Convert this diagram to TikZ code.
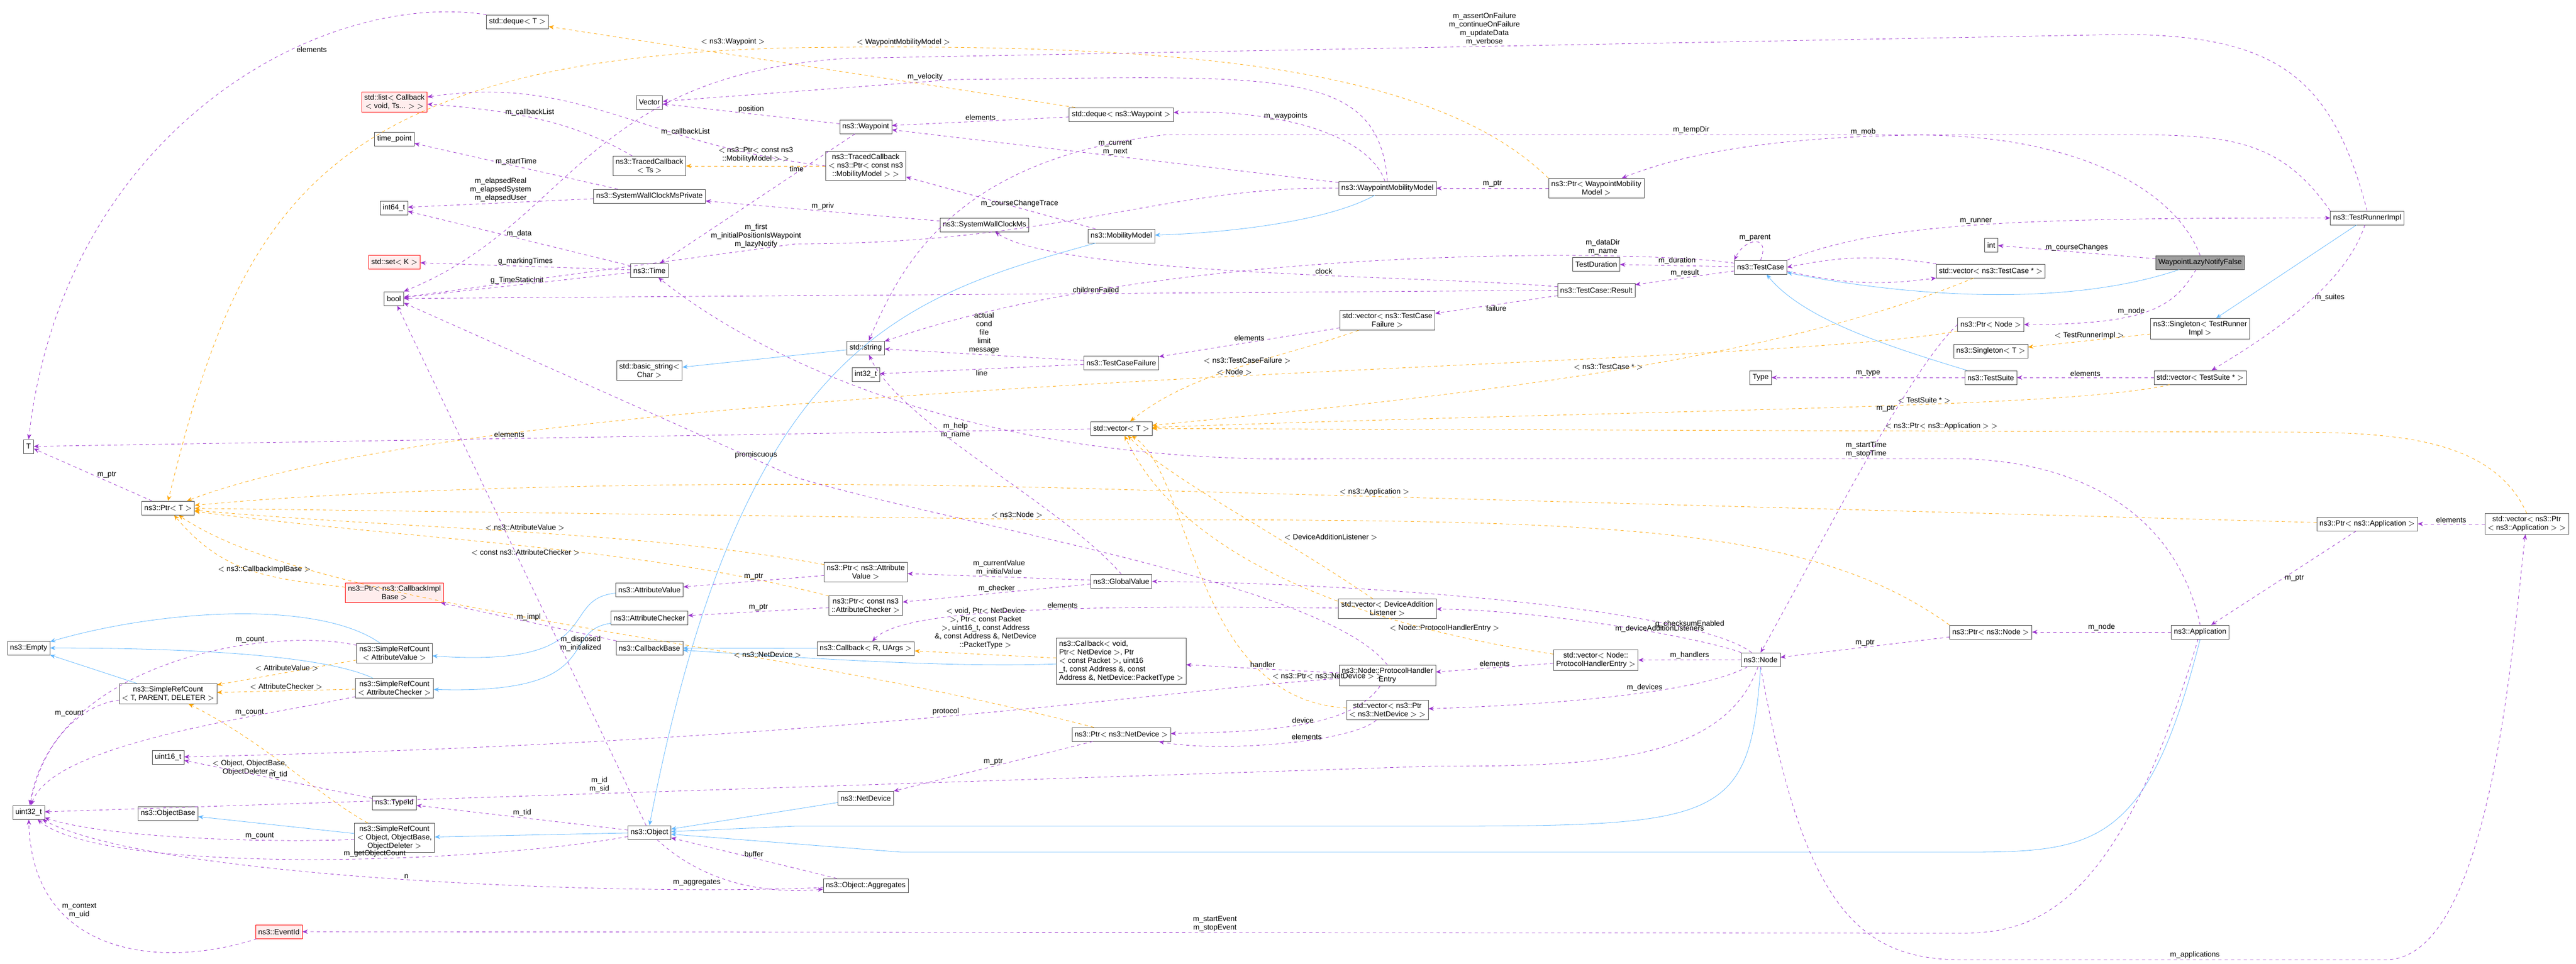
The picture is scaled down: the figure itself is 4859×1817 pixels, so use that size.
\documentclass[tikz,border=0pt]{standalone}
\usepackage{fontspec}
\setmainfont{Liberation Sans}
\usetikzlibrary{arrows.meta}
\definecolor{memc}{HTML}{9A32CD}
\definecolor{tplc}{HTML}{FFA500}
\definecolor{inhc}{HTML}{63B8FF}
\tikzset{
  box/.style={draw=gray!60!black,fill=white,font=\fontsize{7}{8}\selectfont,inner sep=2.5pt,minimum height=13pt,align=center},
  redbox/.style={box,draw=red,fill=red!7},
  mainbox/.style={box,fill=gray!75},
  mem/.style={draw=memc,dashed,-{Stealth[length=5pt,width=4pt]}},
  tpl/.style={draw=tplc,dashed,-{Stealth[length=5pt,width=4pt]}},
  inh/.style={draw=inhc,-{Stealth[length=5pt,width=4pt]}},
  lbl/.style={font=\fontsize{7}{8}\selectfont,align=center,inner sep=1pt,text=black}
}
\begin{document}
\begin{tikzpicture}[x=0.5pt,y=-0.5pt]
\useasboundingbox (0,0) rectangle (4859,1817);
% left column
\node[box] (T) at (54,842) {T};
\node[box] (dequeT) at (976,41) {std::deque$<$ T $>$};
\node[redbox] (cblist) at (744,192) {std::list$<$ Callback\\$<$ void, Ts... $>$ $>$};
\node[box] (timept) at (744,262) {time\_point};
\node[box] (int64) at (743,392) {int64\_t};
\node[redbox] (setK) at (744,494) {std::set$<$ K $>$};
\node[box] (bool) at (743,563) {bool};
\node[box] (ptrT) at (317,958) {ns3::Ptr$<$ T $>$};
\node[redbox] (ptrCbImpl) at (744,1118) {ns3::Ptr$<$ ns3::CallbackImpl\\Base $>$};
\node[box] (empty) at (54,1222) {ns3::Empty};
\node[box] (srcAV) at (744,1232) {ns3::SimpleRefCount\\$<$ AttributeValue $>$};
\node[box] (srcAC) at (744,1298) {ns3::SimpleRefCount\\$<$ AttributeChecker $>$};
\node[box] (srcTPD) at (317,1308) {ns3::SimpleRefCount\\$<$ T, PARENT, DELETER $>$};
\node[box] (u16) at (317,1428) {uint16\_t};
\node[box] (u32) at (54,1532) {uint32\_t};
\node[box] (objBase) at (317,1534) {ns3::ObjectBase};
\node[box] (typeId) at (744,1514) {ns3::TypeId};
\node[box] (srcObj) at (744,1580) {ns3::SimpleRefCount\\$<$ Object, ObjectBase,\\ObjectDeleter $>$};
\node[redbox] (eventId) at (526,1757) {ns3::EventId};
% second column
\node[box] (vec) at (1225,193) {Vector};
\node[box] (tcbTs) at (1225,313) {ns3::TracedCallback\\$<$ Ts $>$};
\node[box] (swcmp) at (1225,370) {ns3::SystemWallClockMsPrivate};
\node[box] (time) at (1225,510) {ns3::Time};
\node[box] (bstr) at (1225,699) {std::basic\_string$<$\\Char $>$};
\node[box] (attrVal) at (1225,1112) {ns3::AttributeValue};
\node[box] (attrChk) at (1225,1165) {ns3::AttributeChecker};
\node[box] (cbBase) at (1225,1222) {ns3::CallbackBase};
\node[box] (object) at (1225,1570) {ns3::Object};
% third column
\node[box] (wp) at (1633,239) {ns3::Waypoint};
\node[box] (tcbMM) at (1633,313) {ns3::TracedCallback\\$<$ ns3::Ptr$<$ const ns3\\::MobilityModel $>$ $>$};
\node[box] (str) at (1633,656) {std::string};
\node[box] (i32) at (1633,706) {int32\_t};
\node[box] (ptrAV) at (1633,1079) {ns3::Ptr$<$ ns3::Attribute\\Value $>$};
\node[box] (ptrAC) at (1633,1142) {ns3::Ptr$<$ const ns3\\::AttributeChecker $>$};
\node[box] (cbRU) at (1633,1223) {ns3::Callback$<$ R, UArgs $>$};
\node[box] (netDev) at (1633,1505) {ns3::NetDevice};
\node[box] (aggr) at (1633,1670) {ns3::Object::Aggregates};
% fourth column
\node[box] (dequeWp) at (2115,216) {std::deque$<$ ns3::Waypoint $>$};
\node[box] (swcm) at (1857,424) {ns3::SystemWallClockMs};
\node[box] (mobModel) at (2115,445) {ns3::MobilityModel};
\node[box] (tcFail) at (2115,684) {ns3::TestCaseFailure};
\node[box] (vecT) at (2115,808) {std::vector$<$ T $>$};
\node[box] (gval) at (2115,1096) {ns3::GlobalValue};
\node[box,align=left] (cbBig) at (2115,1247) {ns3::Callback$<$ void,\\ Ptr$<$ NetDevice $>$, Ptr\\$<$ const Packet $>$, uint16\\\_t, const Address \&, const\\ Address \&, NetDevice::PacketType $>$};
\node[box] (ptrND) at (2115,1385) {ns3::Ptr$<$ ns3::NetDevice $>$};
% fifth column
\node[box] (wmm) at (2617,355) {ns3::WaypointMobilityModel};
\node[box] (vecTcFail) at (2617,604) {std::vector$<$ ns3::TestCase\\Failure $>$};
\node[box] (vecDAL) at (2617,1148) {std::vector$<$ DeviceAddition\\Listener $>$};
\node[box] (phe) at (2617,1274) {ns3::Node::ProtocolHandler\\Entry};
\node[box] (vecPtrND) at (2617,1339) {std::vector$<$ ns3::Ptr\\$<$ ns3::NetDevice $>$ $>$};
% right part
\node[box] (ptrWmm) at (3011,355) {ns3::Ptr$<$ WaypointMobility\\Model $>$};
\node[box] (tdur) at (3011,498) {TestDuration};
\node[box] (tcRes) at (3011,547) {ns3::TestCase::Result};
\node[box] (vecPhe) at (3010,1245) {std::vector$<$ Node::\\ProtocolHandlerEntry $>$};
\node[box] (tcase) at (3321,504) {ns3::TestCase};
\node[box] (type) at (3321,712) {Type};
\node[box] (node) at (3321,1244) {ns3::Node};
\node[box] (int) at (3756,462) {int};
\node[box] (vecTc) at (3755,511) {std::vector$<$ ns3::TestCase * $>$};
\node[box] (ptrNode) at (3755,612) {ns3::Ptr$<$ Node $>$};
\node[box] (singT) at (3755,662) {ns3::Singleton$<$ T $>$};
\node[box] (suite) at (3755,712) {ns3::TestSuite};
\node[box] (ptrNsNode) at (3755,1192) {ns3::Ptr$<$ ns3::Node $>$};
\node[mainbox] (main) at (4150,495) {WaypointLazyNotifyFalse};
\node[box] (singRunner) at (4150,620) {ns3::Singleton$<$ TestRunner\\Impl $>$};
\node[box] (vecSuite) at (4150,712) {std::vector$<$ TestSuite * $>$};
\node[box] (app) at (4150,1192) {ns3::Application};
\node[box] (runner) at (4465,411) {ns3::TestRunnerImpl};
\node[box] (ptrApp) at (4465,988) {ns3::Ptr$<$ ns3::Application $>$};
\node[box] (vecPtrApp) at (4766,988) {std::vector$<$ ns3::Ptr\\$<$ ns3::Application $>$ $>$};
% inheritance
\draw[inh] (wmm) .. controls (2500,420) and (2300,440) .. (mobModel);
\draw[inh] (mobModel) .. controls (1700,560) and (1400,650) .. (object.north);
\draw[inh] (str) -- (bstr);
\draw[inh] (srcTPD) -- (empty);
\draw[inh] (srcAV) .. controls (600,1130) and (300,1150) .. (empty);
\draw[inh] (srcAC) .. controls (600,1230) and (300,1222) .. (empty);
\draw[inh] (attrVal) .. controls (1050,1130) and (1150,1260) .. (srcAV);
\draw[inh] (attrChk) .. controls (1050,1190) and (1150,1310) .. (srcAC);
\draw[inh] (cbRU) -- (cbBase);
\draw[inh] (cbBig) .. controls (1800,1260) and (1500,1240) .. (cbBase);
\draw[inh] (netDev) -- (object);
\draw[inh] (object) -- (srcObj);
\draw[inh] (srcObj) -- (objBase);
\draw[inh] (node.south) .. controls (3300,1550) and (3250,1558) .. (2700,1558) -- (1500,1558) -- (object);
\draw[inh] (app.south) .. controls (4050,1600) and (3950,1607) .. (3700,1607) -- (1700,1607) -- (object);
\draw[inh] (main) .. controls (3900,580) and (3600,560) .. (tcase);
\draw[inh] (suite) .. controls (3550,650) and (3400,600) .. (tcase);
\draw[inh] (runner) -- (singRunner);
% template instances
\draw[tpl] (dequeWp) -- (dequeT) node[lbl,pos=0.65,above=8pt]{$<$ ns3::Waypoint $>$};
\draw[tpl] (ptrWmm.north west) .. controls (2700,120) and (2200,80) .. node[lbl,pos=0.9,above]{$<$ WaypointMobilityModel $>$} (1500,90) .. controls (600,110) and (450,400) .. (ptrT.north);
\draw[tpl] (tcbMM) -- (tcbTs) node[lbl,midway,above=2pt]{$<$ ns3::Ptr$<$ const ns3\\::MobilityModel $>$ $>$};
\draw[tpl] (vecTcFail) .. controls (2400,680) and (2250,700) .. (vecT) node[lbl,pos=0.45,above]{$<$ ns3::TestCaseFailure $>$};
\draw[tpl] (vecTc) .. controls (3300,700) and (2600,760) .. (vecT) node[lbl,pos=0.45,above]{$<$ ns3::TestCase * $>$};
\draw[tpl] (vecSuite) .. controls (3900,770) and (3200,770) .. (vecT) node[lbl,pos=0.4,above]{$<$ TestSuite * $>$};
\draw[tpl] (vecPtrApp.north) .. controls (4700,820) and (4500,815) .. (4300,815) -- node[lbl,pos=0.3,above]{$<$ ns3::Ptr$<$ ns3::Application $>$ $>$} (vecT);
\draw[tpl] (vecDAL) .. controls (2400,1000) and (2200,900) .. (vecT) node[lbl,pos=0.3,above right]{$<$ DeviceAdditionListener $>$};
\draw[tpl] (vecPhe) .. controls (2700,1200) and (2250,1100) .. (vecT) node[lbl,pos=0.25,above]{$<$ Node::ProtocolHandlerEntry $>$};
\draw[tpl] (vecPtrND) .. controls (2250,1320) and (2250,900) .. (vecT) node[lbl,pos=0.2,above right]{$<$ ns3::Ptr$<$ ns3::NetDevice $>$ $>$};
\draw[tpl] (ptrNode) .. controls (3300,700) and (1000,700) .. (ptrT) node[lbl,pos=0.45,above]{$<$ Node $>$};
\draw[tpl] (ptrApp) -- node[lbl,pos=0.75,above]{$<$ ns3::Application $>$} (2000,920) .. controls (1200,900) and (600,930) .. (ptrT);
\draw[tpl] (ptrNsNode.north west) .. controls (3400,980) and (3000,980) .. (2000,980) -- node[lbl,pos=0.05,above]{$<$ ns3::Node $>$} (ptrT);
\draw[tpl] (ptrAV) .. controls (1200,1000) and (800,1000) .. (ptrT) node[lbl,pos=0.5,above]{$<$ ns3::AttributeValue $>$};
\draw[tpl] (ptrAC) .. controls (1200,1030) and (800,1020) .. (ptrT) node[lbl,pos=0.5,below=2pt]{$<$ const ns3::AttributeChecker $>$};
\draw[tpl] (ptrCbImpl) .. controls (500,1090) and (420,1080) .. (ptrT) node[lbl,pos=0.4,above]{$<$ ns3::CallbackImplBase $>$};
\draw[tpl] (ptrND) .. controls (1400,1200) and (600,1150) .. (ptrT) node[lbl,pos=0.3,above]{$<$ ns3::NetDevice $>$};
\draw[tpl] (srcAV) -- (srcTPD) node[lbl,midway,above]{$<$ AttributeValue $>$};
\draw[tpl] (srcAC) -- (srcTPD) node[lbl,midway,above]{$<$ AttributeChecker $>$};
\draw[tpl] (srcObj) .. controls (600,1500) and (500,1400) .. (srcTPD) node[lbl,pos=0.5,left]{$<$ Object, ObjectBase,\\ObjectDeleter $>$};
\draw[tpl] (cbBig) -- (cbRU) node[lbl,midway,above=4pt]{$<$ void, Ptr$<$ NetDevice\\$>$, Ptr$<$ const Packet\\$>$, uint16\_t, const Address\\\&, const Address \&, NetDevice\\::PacketType $>$};
\draw[tpl] (singRunner) -- (singT) node[lbl,midway,above]{$<$ TestRunnerImpl $>$};
% members
\draw[mem] (vecT) -- (T) node[lbl,pos=0.55,above]{elements};
\draw[mem] (dequeT.north west) .. controls (600,-20) and (120,250) .. (T.north) node[lbl,pos=0.35,right=4pt]{elements};
\draw[mem] (ptrT) -- (T) node[lbl,midway,right=3pt]{m\_ptr};
\draw[mem] (tcbTs) .. controls (1100,240) and (1000,210) .. (cblist) node[lbl,pos=0.6,above]{m\_callbackList};
\draw[mem] (tcbMM.west) .. controls (1200,270) and (1100,140) .. (cblist) node[lbl,pos=0.3,above]{m\_callbackList};
\draw[mem] (swcmp) -- (timept) node[lbl,midway,above]{m\_startTime};
\draw[mem] (swcmp) -- (int64) node[lbl,midway,above]{m\_elapsedReal\\m\_elapsedSystem\\m\_elapsedUser};
\draw[mem] (time) -- (int64) node[lbl,midway,above]{m\_data};
\draw[mem] (time) -- (setK) node[lbl,midway,above]{g\_markingTimes};
\draw[mem] (time) -- (bool) node[lbl,midway,above]{g\_TimeStaticInit};
\draw[mem] (wmm.west) .. controls (2200,350) and (2000,460) .. (1500,460) -- node[lbl,pos=0.1,above]{m\_first\\m\_initialPositionIsWaypoint\\m\_lazyNotify} (bool);
\draw[mem] (tcRes) -- (bool) node[lbl,pos=0.4,above]{childrenFailed};
\draw[mem] (object) -- (bool) node[lbl,pos=0.35,right]{m\_disposed\\m\_initialized};
\draw[mem] (phe.north) .. controls (2500,1100) and (1800,990) .. (1500,900) -- node[lbl,pos=0.1,above]{promiscuous} (bool);
\draw[mem] (runner.north) .. controls (4400,150) and (4300,65) .. (4000,65) -- node[lbl,pos=0.5,above]{m\_assertOnFailure\\m\_continueOnFailure\\m\_updateData\\m\_verbose} (1600,110) .. controls (1100,140) and (1080,420) .. (bool.north east);
\draw[mem] (wmm.north) .. controls (2600,120) and (2400,145) .. (1800,150) -- node[lbl,pos=0.1,above]{m\_velocity} (vec);
\draw[mem] (wp) -- (vec) node[lbl,midway,above]{position};
\draw[mem] (wp) -- (time) node[lbl,pos=0.3,above]{time};
\draw[mem] (wmm) -- (wp) node[lbl,pos=0.5,above]{m\_current\\m\_next};
\draw[mem] (dequeWp) -- (wp) node[lbl,midway,above]{elements};
\draw[mem] (wmm) .. controls (2580,250) and (2400,205) .. (dequeWp) node[lbl,pos=0.6,above]{m\_waypoints};
\draw[mem] (mobModel) -- (tcbMM) node[lbl,pos=0.4,above]{m\_courseChangeTrace};
\draw[mem] (swcm) -- (swcmp) node[lbl,midway,above]{m\_priv};
\draw[mem] (tcRes) .. controls (2700,520) and (2000,520) .. (swcm) node[lbl,pos=0.4,above]{clock};
\draw[mem] (tcase) .. controls (3100,470) and (2200,460) .. (str) node[lbl,pos=0.25,above]{m\_dataDir\\m\_name};
\draw[mem] (runner.north west) .. controls (4300,260) and (4200,254) .. (4000,254) -- node[lbl,pos=0.45,above]{m\_tempDir} (2200,254) .. controls (1800,300) and (1700,500) .. (str);
\draw[mem] (tcFail) -- (str) node[lbl,midway,above]{actual\\cond\\file\\limit\\message};
\draw[mem] (tcFail) -- (i32) node[lbl,midway,below]{line};
\draw[mem] (gval.north) .. controls (2000,950) and (1700,800) .. (str) node[lbl,pos=0.65,right]{m\_help\\m\_name};
\draw[mem] (vecTcFail) -- (tcFail) node[lbl,midway,above]{elements};
\draw[mem] (tcRes) -- (vecTcFail) node[lbl,midway,below]{failure};
\draw[mem] (srcAV) .. controls (500,1180) and (100,1250) .. (u32) node[lbl,pos=0.3,above]{m\_count};
\draw[mem] (srcTPD) .. controls (150,1330) and (80,1400) .. (u32) node[lbl,pos=0.3,left]{m\_count};
\draw[mem] (srcAC) .. controls (500,1350) and (100,1400) .. (u32) node[lbl,pos=0.3,above]{m\_count};
\draw[mem] (srcObj) .. controls (500,1590) and (200,1580) .. (u32) node[lbl,pos=0.3,above]{m\_count};
\draw[mem] (cbBase) -- (ptrCbImpl) node[lbl,midway,above]{m\_impl};
\draw[mem] (ptrAV) -- (attrVal) node[lbl,midway,above]{m\_ptr};
\draw[mem] (ptrAC) -- (attrChk) node[lbl,midway,above]{m\_ptr};
\draw[mem] (gval) -- (ptrAV) node[lbl,midway,above]{m\_currentValue\\m\_initialValue};
\draw[mem] (gval) -- (ptrAC) node[lbl,midway,above]{m\_checker};
\draw[mem] (vecDAL) .. controls (2000,1140) and (1700,1150) .. (cbRU) node[lbl,pos=0.4,above]{elements};
\draw[mem] (phe) -- (cbBig) node[lbl,midway,above]{handler};
\draw[mem] (phe) .. controls (2550,1370) and (2400,1380) .. (ptrND) node[lbl,pos=0.5,above]{device};
\draw[mem] (phe) .. controls (2200,1300) and (1600,1400) .. (u16) node[lbl,pos=0.5,above]{protocol};
\draw[mem] (vecPtrND) .. controls (2550,1400) and (2300,1420) .. (ptrND) node[lbl,pos=0.4,above]{elements};
\draw[mem] (ptrND) -- (netDev) node[lbl,midway,above]{m\_ptr};
\draw[mem] (node) .. controls (3250,1440) and (3000,1445) .. (2700,1445) -- node[lbl,pos=0.6,above]{m\_id\\m\_sid} (u32);
\draw[mem] (object) .. controls (900,1630) and (200,1650) .. (u32) node[lbl,pos=0.4,above]{m\_getObjectCount};
\draw[mem] (aggr) .. controls (1200,1690) and (300,1660) .. (u32) node[lbl,pos=0.5,above]{n};
\draw[mem] (eventId) .. controls (300,1830) and (60,1800) .. (u32) node[lbl,pos=0.7,right]{m\_context\\m\_uid};
\draw[mem] (app) .. controls (4000,1700) and (3850,1760) .. (3700,1760) -- node[lbl,pos=0.45,above]{m\_startEvent\\m\_stopEvent} (eventId);
\draw[mem] (typeId) -- (u16) node[lbl,midway,above]{m\_tid};
\draw[mem] (object) -- (typeId) node[lbl,midway,above]{m\_tid};
\draw[mem] (object) .. controls (1300,1640) and (1400,1690) .. (aggr) node[lbl,pos=0.5,below left]{m\_aggregates};
\draw[mem] (aggr) -- (object) node[lbl,midway,above]{buffer};
\draw[mem] (app.north) .. controls (4100,950) and (3900,870) .. (3700,865) -- node[lbl,pos=0.15,above]{m\_startTime\\m\_stopTime} (2500,865) .. controls (1800,880) and (1400,650) .. (time);
\draw[mem] (node) .. controls (3200,1150) and (2600,1100) .. (gval) node[lbl,pos=0.2,above]{g\_checksumEnabled};
\draw[mem] (node) .. controls (3200,1200) and (2900,1150) .. (vecDAL) node[lbl,pos=0.35,above]{m\_deviceAdditionListeners};
\draw[mem] (node) -- (vecPhe) node[lbl,midway,above]{m\_handlers};
\draw[mem] (node) .. controls (3200,1310) and (2900,1330) .. (vecPtrND) node[lbl,pos=0.4,above]{m\_devices};
\draw[mem] (node.south) .. controls (3400,1700) and (3500,1810) .. (3700,1810) -- node[lbl,pos=0.55,above]{m\_applications} (4500,1810) .. controls (4700,1810) and (4740,1200) .. (vecPtrApp);
\draw[mem] (vecPhe) -- (phe) node[lbl,midway,above]{elements};
\draw[mem] (ptrNsNode) -- (node) node[lbl,midway,above]{m\_ptr};
\draw[mem] (app) -- (ptrNsNode) node[lbl,midway,above]{m\_node};
\draw[mem] (ptrApp) -- (app) node[lbl,midway,right]{m\_ptr};
\draw[mem] (vecPtrApp) -- (ptrApp) node[lbl,midway,above]{elements};
\draw[mem] (main) -- (int) node[lbl,midway,above]{m\_courseChanges};
\draw[mem] (main) .. controls (4100,580) and (4050,612) .. (ptrNode) node[lbl,pos=0.6,above]{m\_node};
\draw[mem] (main.north) .. controls (4100,350) and (3900,250) .. (3600,255) .. controls (3300,260) and (3150,300) .. node[lbl,pos=0.1,above]{m\_mob} (ptrWmm);
\draw[mem] (ptrWmm) -- (wmm) node[lbl,midway,above]{m\_ptr};
\draw[mem] (tcase.north) .. controls (3340,440) and (3290,450) .. (tcase.north west) node[lbl,pos=0.5,above]{m\_parent};
\draw[mem] (tcase) -- (tdur) node[lbl,midway,above]{m\_duration};
\draw[mem] (tcase) -- (tcRes) node[lbl,midway,above]{m\_result};
\draw[mem] ([yshift=3pt]tcase.south east) to[bend right=10] (vecTc.south west) node[lbl,pos=0.5,above=-1pt]{m\_children};
\draw[mem] (vecTc.north west) to[bend right=10] (tcase.east) node[lbl,pos=0.5,above]{elements};
\draw[mem] (tcase.north east) .. controls (3550,420) and (3800,411) .. (runner) node[lbl,pos=0.5,above]{m\_runner};
\draw[mem] (suite) -- (type) node[lbl,midway,above]{m\_type};
\draw[mem] (vecSuite) -- (suite) node[lbl,midway,above]{elements};
\draw[mem] (runner) .. controls (4420,550) and (4250,650) .. (vecSuite) node[lbl,pos=0.4,right]{m\_suites};
\draw[mem] (ptrNode.west) .. controls (3600,700) and (3450,1000) .. (node.north) node[lbl,pos=0.35,left]{m\_ptr};
\end{tikzpicture}
\end{document}
